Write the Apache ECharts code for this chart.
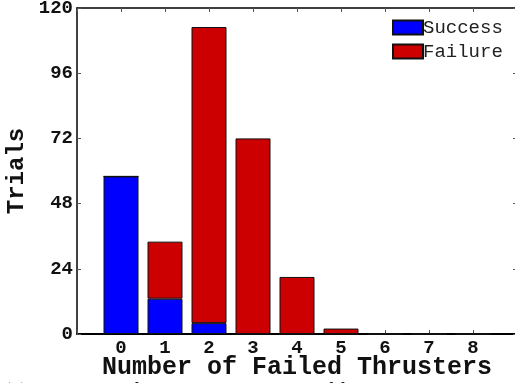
<!DOCTYPE html>
<html>
<head>
<meta charset="utf-8">
<script src="https://cdn.jsdelivr.net/npm/echarts@6/dist/echarts.min.js"></script>
<style>
html,body{margin:0;padding:0;background:#fff;}
#c{width:515px;height:383px;}
</style>
</head>
<body>
<div id="c"></div>
<script>
// Data
var categories = ['', '0', '1', '2', '3', '4', '5', '6', '7', '8', ''];
var success = ['-', 58, 13, 4, 0, 0, 0, 0, 0, 0, '-'];
var failure = ['-', 0, 21, 109, 72, 21, 2, 0, 0, 0, '-'];
var yTicks = [0, 24, 48, 72, 96, 120];
var seriesNames = ['Success', 'Failure'];
var xTitle = 'Number of Failed Thrusters';
var yTitle = 'Trials';
var caption = '(b) Histogram of outcomes by number of failed thrusters';

var chart = echarts.init(document.getElementById('c'), null, {renderer: 'canvas'});
var mono = '"Liberation Mono", "DejaVu Sans Mono", monospace';
var tickStyle = {show: true, inside: true, length: 4, lineStyle: {color: '#555', width: 1}};
var option = {
  animation: false,
  backgroundColor: '#fff',
  grid: {left: 77, top: 8, width: 440, height: 326, containLabel: false, outerBoundsMode: 'none'},
  legend: {
    data: seriesNames,
    orient: 'vertical',
    left: 392, top: 18,
    icon: 'rect',
    itemWidth: 30, itemHeight: 14, itemGap: 5,
    textStyle: {fontFamily: mono, fontSize: 19, color: '#222', padding: [0, 0, 0, -5]},
    padding: 0
  },
  xAxis: [{
    type: 'category', data: categories, boundaryGap: false, position: 'bottom',
    axisLine: {onZero: false, lineStyle: {color: '#000', width: 2}},
    axisTick: Object.assign({alignWithLabel: true, interval: 0}, tickStyle),
    axisLabel: {fontFamily: mono, fontWeight: 'bold', fontSize: 19, color: '#111', margin: 5, interval: 0},
    name: xTitle, nameLocation: 'middle', nameGap: 21, nameMoveOverlap: false,
    nameTextStyle: {fontFamily: mono, fontWeight: 'bold', fontSize: 25, color: '#111'}
  }, {
    type: 'category', data: categories, boundaryGap: false, position: 'top',
    axisLine: {onZero: false, lineStyle: {color: '#000', width: 1.5}},
    axisTick: Object.assign({interval: 0}, tickStyle),
    axisLabel: {show: false}
  }],
  yAxis: [{
    type: 'value', min: 0, max: 120, interval: 24, position: 'left',
    axisLine: {show: true, onZero: false, lineStyle: {color: '#000', width: 1.5}},
    axisTick: tickStyle,
    splitLine: {show: false},
    axisLabel: {fontFamily: mono, fontWeight: 'bold', fontSize: 19, color: '#111', margin: 4},
    name: yTitle, nameLocation: 'middle', nameGap: 48, nameRotate: 90, nameMoveOverlap: false,
    nameTextStyle: {fontFamily: mono, fontWeight: 'bold', fontSize: 24, color: '#111'}
  }, {
    type: 'value', min: 0, max: 120, interval: 24, position: 'right',
    axisLine: {show: true, onZero: false, lineStyle: {color: '#000', width: 1.5}},
    axisTick: tickStyle,
    splitLine: {show: false},
    axisLabel: {show: false}
  }],
  series: [{
    name: seriesNames[0], type: 'bar', stack: 'all', data: success, barWidth: 35,
    itemStyle: {color: '#0000ff', borderColor: '#111', borderWidth: 1}
  }, {
    name: seriesNames[1], type: 'bar', stack: 'all', data: failure, barWidth: 35,
    itemStyle: {color: '#cc0000', borderColor: '#111', borderWidth: 1}
  }],
  graphic: [{
    type: 'text', left: 4, top: 382,
    style: {text: caption, font: '20px "Liberation Serif", serif', fill: '#111'}
  }]
};
chart.setOption(option);
</script>
</body>
</html>
